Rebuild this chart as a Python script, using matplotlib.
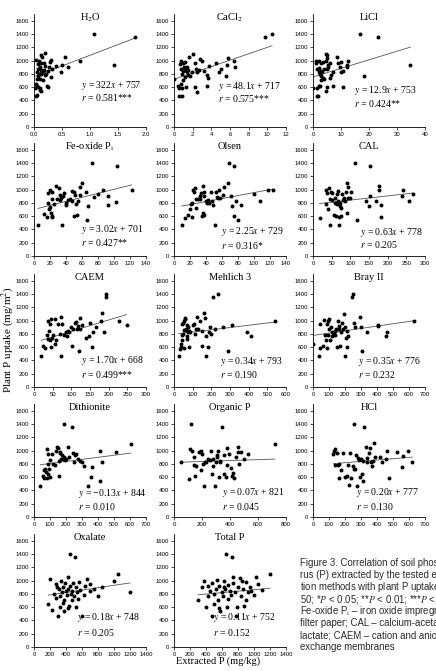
import matplotlib.pyplot as plt
import numpy as np

plt.rcParams['font.serif'] = ['Liberation Serif', 'DejaVu Serif']
plt.rcParams['font.sans-serif'] = ['Liberation Sans', 'DejaVu Sans']
plt.rcParams['mathtext.fontset'] = 'stix'

# panel names, regression text
titles = ['H$_2$O', 'CaCl$_2$', 'LiCl', 'Fe-oxide P$_\\mathrm{i}$', 'Olsen', 'CAL',
          'CAEM', 'Mehlich 3', 'Bray II', 'Dithionite', 'Organic P', 'HCl',
          'Oxalate', 'Total P']
eq_text = ['322', '48.1', '12.9', '3.02', '2.25', '0.63', '1.70', '0.34', '0.35',
           '\u22120.13', '0.07', '0.20', '0.18', '0.11']
icpt_text = ['757', '717', '753', '701', '729', '778', '668', '793', '776', '844',
             '821', '777', '748', '752']
r_text = ['0.581***', '0.575***', '0.424**', '0.427**', '0.316*',
          '0.205', '0.499***', '0.190', '0.232', '0.010', '0.045', '0.130',
          '0.205', '0.152']
# fitted lines as drawn in the figure
line_slope = [322, 48.1, 12.9, 3.02, 2.25, 0.63, 1.70, 0.34, 0.35, 0.31, 0.07, 0.20, 0.18, 0.11]
line_icpt = [757, 717, 753, 701, 729, 778, 668, 793, 776, 774, 821, 777, 748, 752]
x_max = [2.0, 12, 40, 140, 140, 300, 300, 600, 700, 700, 800, 700, 1400, 1400]
x_step = [0.5, 2, 10, 20, 20, 50, 50, 100, 100, 100, 200, 100, 200, 200]

h2o = [(0.03,470),(0.05,480),(0.02,590),(0.04,650),(0.06,620),(0.08,600),(0.1,560),(0.12,540),
       (0.1,580),(0.05,720),(0.07,760),(0.09,800),(0.12,790),(0.14,830),(0.06,830),(0.08,870),
       (0.1,900),(0.12,860),(0.15,820),(0.04,1010),(0.09,1000),(0.12,970),(0.15,1050),(0.13,1080),
       (0.17,960),(0.2,1110),(0.18,860),(0.2,780),(0.22,800),(0.23,620),(0.25,600),(0.25,850),
       (0.28,980),(0.3,1010),(0.3,750),(0.27,900),(0.33,870),(0.4,920),(0.48,820),(0.5,940),
       (0.55,1050),(0.6,900),(0.82,1000),(1.07,1400),(1.43,930),(1.8,1350),(0.16,700),(0.1,720),
       (0.07,950),(0.2,920)]
cacl2 = [(0,720),(0.4,620),(0.5,580),(0.5,460),(0.9,460),(0.9,580),(0.6,950),(0.8,1000),(1.0,960),
         (1.2,980),(1.0,850),(0.9,800),(1.2,860),(1.4,900),(1.5,860),(1.4,820),(1.5,780),(1.2,750),
         (1.0,700),(0.8,640),(1.3,600),(1.6,1050),(2.0,1100),(1.9,820),(2.3,960),(2.2,600),(2.5,530),
         (2.5,820),(2.7,860),(2.8,1020),(3.0,1000),(3.2,840),(3.5,780),(3.6,740),(3.5,610),(3.8,920),
         (4.5,970),(4.8,820),(5.0,880),(5.6,760),(5.7,940),(5.8,1040),(6.4,1000),(6.5,900),(9.7,1350),
         (10.5,1400),(1.1,900),(0.7,880),(2.4,880),(1.7,770)]
licl = [(0,580),(1.3,460),(1.8,460),(1,1000),(1.2,960),(1.5,870),(2,890),(2.2,830),(2.5,800),
        (2.7,770),(2.2,620),(2.6,620),(3,700),(3,850),(3,960),(3.5,980),(3.8,880),(3.4,740),(4,720),
        (4.5,540),(4.6,1000),(4.8,1100),(5,1080),(4.9,1040),(5.2,940),(5,880),(5.5,900),(5,600),
        (6,960),(6.3,780),(6,740),(7,620),(7,830),(8.7,1050),(9,960),(9.5,900),(10,820),(10,980),
        (10.7,840),(10.8,600),(12,900),(12.3,940),(12.6,1000),(16.8,1400),(18.3,760),(23.3,1350),
        (34.8,930),(2,1000),(1.5,590),(3.3,820)]
fe_ox = [(5,470),(13,630),(16,580),(17,950),(18,800),(19,700),(20,1000),(20,740),(21,640),(22,600),
         (22,580),(22,860),(23,960),(25,780),(27,1060),(29,860),(31,1020),(32,840),(34,880),(35,470),
         (36,900),(38,950),(40,800),(40,760),(43,840),(47,980),(48,820),(50,960),(50,600),(51,920),
         (52,780),(54,610),(55,830),(57,920),(58,1040),(60,1100),(65,960),(66,540),(68,750),(72,1400),
         (75,890),(80,930),(86,1000),(92,760),(93,900),(103,810),(104,1350),(122,1000),(33,920),(45,860)]
olsen = [(10,460),(14,570),(17,620),(20,700),(21,780),(22,580),(23,790),(24,1000),(25,960),(26,1030),
         (28,720),(30,860),(32,860),(34,950),(35,600),(36,650),(36,1050),(37,900),(38,960),(38,620),
         (40,820),(41,790),(42,840),(46,970),(48,820),(49,760),(51,470),(52,960),(54,890),(56,1000),
         (58,870),(61,920),(63,1040),(67,1100),(69,1400),(71,900),(73,750),(75,1350),(75,600),(78,820),
         (80,540),(84,760),(100,930),(108,820),(117,1000),(124,1000),(27,860),(33,900),(44,800),(55,880)]
cal = [(18,570),(35,780),(36,1000),(38,950),(40,700),(42,1030),(45,460),(45,860),(47,960),(50,950),
       (52,850),(55,620),(58,880),(60,800),(62,600),(64,780),(65,940),(67,980),(68,820),(70,590),
       (70,460),(72,800),(73,750),(75,720),(76,600),(77,940),(80,840),(82,870),(85,820),(88,960),
       (90,650),(90,1100),(93,1040),(94,880),(100,870),(102,970),(112,1400),(118,540),(142,830),
       (150,750),(152,1350),(154,900),(168,820),(178,1000),(178,1060),(181,590),(182,760),(238,900),
       (242,1000),(258,820),(268,930)]
caem = [(20,470),(23,620),(30,580),(35,780),(37,720),(38,1000),(40,850),(42,950),(43,700),(45,1020),
        (45,600),(48,740),(50,780),(55,1030),(57,640),(60,700),(65,950),(72,1060),(73,470),(75,950),
        (80,780),(85,820),(88,760),(90,850),(95,830),(100,910),(103,610),(105,870),(110,960),(112,980),
        (115,880),(118,920),(120,540),(122,1040),(124,880),(128,940),(140,740),(148,760),(150,960),
        (155,600),(158,820),(165,900),(180,1000),(182,1110),(188,830),(193,1400),(193,1350),(228,1000),
        (248,930),(70,800)]
mehlich = [(25,470),(30,570),(38,600),(40,640),(42,950),(44,700),(48,960),(50,800),(52,1000),(54,860),
           (56,580),(58,1020),(60,1040),(62,860),(65,880),(68,720),(72,760),(75,820),(76,900),(80,840),
           (80,600),(88,820),(100,940),(108,950),(115,800),(118,870),(125,1060),(138,1000),(150,610),
           (152,840),(160,1110),(165,1040),(170,470),(172,760),(180,600),(190,820),(195,900),(200,800),
           (210,1350),(218,880),(235,1400),(260,900),(290,540),(310,930),(390,820),(410,760),(540,1000),
           (45,780),(70,930),(130,870)]
bray = [(0,640),(38,460),(42,950),(45,580),(60,620),(70,1010),(75,780),(80,700),(85,950),(88,580),
        (92,1000),(95,780),(100,1020),(100,870),(105,700),(110,900),(120,820),(130,800),(135,850),
        (140,780),(145,880),(150,600),(155,1000),(160,870),(165,920),(170,620),(180,960),(190,870),
        (195,1100),(200,900),(200,470),(205,740),(210,600),(215,840),(220,770),(245,1350),(250,1400),
        (255,960),(265,900),(295,1060),(300,900),(305,540),(340,820),(405,920),(408,930),(455,760),
        (465,820),(630,1000),(120,760),(175,820)]
dith = [(40,470),(55,620),(62,710),(65,580),(70,720),(80,580),(82,1030),(85,790),(88,640),(90,950),
        (95,720),(100,600),(102,860),(115,950),(120,800),(130,780),(140,1000),(142,1060),(150,1040),
        (155,610),(158,840),(162,980),(165,960),(170,880),(172,930),(180,870),(185,900),(190,1400),
        (195,860),(200,880),(215,1050),(220,900),(240,1350),(245,960),(250,830),(258,930),(265,950),
        (278,880),(285,840),(300,820),(315,760),(340,470),(358,600),(365,750),(410,540),(415,1000),
        (425,820),(515,980),(605,1100),(75,680)]
org_p = [(50,830),(110,570),(115,1030),(122,1400),(130,1000),(140,900),(145,780),(150,610),(160,760),
         (180,980),(190,700),(195,1000),(200,950),(205,800),(215,460),(220,820),(230,830),(240,870),
         (255,860),(262,1000),(270,640),(275,760),(280,880),(295,460),(300,830),(305,940),(310,900),
         (315,1000),(320,600),(325,850),(330,830),(345,1350),(355,930),(360,640),(370,600),(375,780),
         (380,1040),(390,950),(405,740),(415,610),(420,660),(425,580),(445,900),(455,980),(460,1060),
         (465,800),(480,980),(500,880),(530,950),(720,1100)]
hcl = [(128,950),(132,1000),(138,1030),(140,780),(150,960),(155,780),(160,790),(165,580),(175,700),
       (185,960),(200,600),(210,620),(218,780),(225,480),(232,970),(240,580),(250,760),(255,1400),
       (258,720),(265,720),(270,940),(272,460),(280,890),(290,860),(295,600),(300,870),(305,650),
       (310,840),(315,540),(318,1350),(330,1050),(335,890),(340,830),(350,960),(358,1040),(365,820),
       (370,760),(375,840),(380,1110),(385,900),(420,910),(430,820),(455,880),(460,1000),(475,590),
       (525,980),(555,750),(565,920),(595,1000),(620,820)]
oxal = [(180,640),(200,1030),(220,560),(250,800),(270,730),(280,950),(300,470),(310,880),(320,760),
        (330,600),(340,1000),(350,820),(360,900),(370,700),(380,540),(390,960),(400,850),(410,780),
        (420,1060),(430,880),(440,620),(450,920),(455,1400),(460,800),(470,700),(480,850),(490,960),
        (500,760),(510,1350),(520,900),(530,600),(540,830),(560,980),(580,860),(600,470),(620,780),
        (640,920),(660,1030),(700,840),(750,880),(800,760),(850,900),(1000,1000),(1050,1100),
        (1200,830),(290,900),(360,660),(420,580),(550,720),(700,950)]
tot_p = [(300,700),(350,900),(380,1000),(400,600),(420,760),(450,840),(470,470),(480,960),(500,800),
         (520,880),(540,1010),(550,700),(560,920),(580,540),(600,820),(610,760),(620,1000),(640,880),
         (650,1400),(660,600),(680,940),(700,850),(710,780),(720,1350),(740,960),(760,820),(780,470),
         (800,900),(820,1040),(840,760),(860,880),(880,620),(900,980),(920,830),(950,900),(1000,780),
         (1050,950),(1100,860),(1200,1100),(500,650),(560,590),(620,900),(680,720),(740,1050),
         (790,600),(850,1000),(900,700),(960,850),(430,920),(1020,1060)]
panels = [h2o, cacl2, licl, fe_ox, olsen, cal, caem, mehlich, bray, dith, org_p, hcl, oxal, tot_p]

# label positions (axes x fraction, data y of equation, data y of r)
lab_pos = [(0.42, 630, 440), (0.39, 610, 425), (0.37, 555, 355), (0.42, 400, 205),
           (0.42, 365, 165), (0.42, 350, 180), (0.42, 400, 190), (0.41, 390, 190),
           (0.40, 390, 190), (0.39, 355, 165), (0.43, 365, 165), (0.38, 365, 165),
           (0.38, 450, 225), (0.35, 450, 225)]

fig = plt.figure(figsize=(4.36, 6.71), dpi=100)
W, H = 436, 671
col_left = [34, 174, 313]
row_bottom = [127, 256, 387, 517, 647]
aw, ah = 112, 113

for i in range(14):
    r, c = divmod(i, 3)
    ax = fig.add_axes([col_left[c] / W, 1 - row_bottom[r] / H, aw / W, ah / H])
    pts = np.array(panels[i])
    ax.scatter(pts[:, 0], pts[:, 1], s=8, color='black', linewidths=0, zorder=3)
    xl = np.array([pts[:, 0].min(), pts[:, 0].max()])
    ax.plot(xl, line_slope[i] * xl + line_icpt[i], color='#555555', lw=0.6, zorder=2)
    ax.set_xlim(0, x_max[i])
    ax.set_ylim(0, 1700)
    ax.set_xticks(np.arange(0, x_max[i] + x_step[i] / 2, x_step[i]))
    if i == 0:
        ax.set_xticklabels(['%.1f' % v for v in ax.get_xticks()])
    ax.set_yticks(range(0, 1601, 200))
    for s in ['top', 'right']:
        ax.spines[s].set_visible(False)
    for s in ['left', 'bottom']:
        ax.spines[s].set_linewidth(0.6)
    ax.tick_params(labelsize=4.3, length=2, width=0.5, pad=1.5)
    for lb in ax.get_xticklabels() + ax.get_yticklabels():
        lb.set_family('sans-serif')
    ax.text(0.5, 0.97, titles[i], transform=ax.transAxes, ha='center', va='center',
            fontsize=7.5, family='serif')
    xf, ye, yr = lab_pos[i]
    tr = ax.get_yaxis_transform()
    ax.text(xf, ye, '$y$ = %s$x$ + %s' % (eq_text[i], icpt_text[i]), transform=tr,
            ha='left', va='center', fontsize=7, family='serif')
    ax.text(xf, yr, '$r$ = %s' % r_text[i], transform=tr,
            ha='left', va='center', fontsize=7, family='serif')

fig.text(8 / W, 1 - 340 / H, 'Plant P uptake (mg/m$^2$)', rotation=90, ha='center',
         va='center', fontsize=8, family='serif')
fig.text(218 / W, 1 - 661 / H, 'Extracted P (mg/kg)', ha='center', va='center',
         fontsize=7.5, family='serif')

caption = ['Figure 3. Correlation of soil phospho-',
           'rus (P) extracted by the tested extrac-',
           'tion methods with plant P uptake; $n$ =',
           '50; *$P$ < 0.05; **$P$ < 0.01; ***$P$ < 0.001;',
           'Fe-oxide P$_\\mathrm{i}$ \u2013 iron oxide impregnated',
           'filter paper; CAL \u2013 calcium-acetate-',
           'lactate; CAEM \u2013 cation and anion',
           'exchange membranes']
for k, line in enumerate(caption):
    fig.text(300 / W, 1 - (563 + 12 * k) / H, line, ha='left', va='center',
             fontsize=6.9, family='sans-serif', color='#2a2a2a')

fig.savefig('out.png', dpi=100)
